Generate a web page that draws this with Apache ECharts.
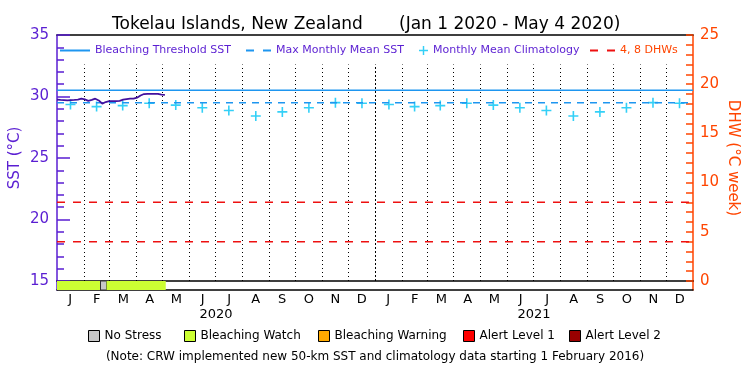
<!DOCTYPE html>
<html><head><meta charset="utf-8">
<script src="https://cdn.jsdelivr.net/npm/echarts@6/dist/echarts.min.js"></script>
<style>html,body{margin:0;padding:0;background:#fff}#c{width:750px;height:375px}</style>
</head><body><div id="c"></div>
<script>
// ---- data ----
const monthLabels = ['J','F','M','A','M','J','J','A','S','O','N','D','J','F','M','A','M','J','J','A','S','O','N','D'];
const yearLabels = ['2020','2021'];
const monthLengths = [31,29,31,30,31,30,31,31,30,31,30,31, 31,28,31,30,31,30,31,31,30,31,30,31];
// daily SST (day index from 1 Jan 2020)
const sstDays =   [0,4,8,12,16,20,24,28,32,36,40,44,48,52,56,60,64,68,72,76,80,84,88,92,96,100,104,108,112,116,120,124];
const sstValues = [29.75,29.72,29.70,29.68,29.70,29.72,29.75,29.82,29.76,29.65,29.72,29.82,29.68,29.42,29.55,29.62,29.62,29.62,29.65,29.74,29.78,29.82,29.83,29.90,30.08,30.20,30.22,30.22,30.22,30.22,30.16,30.14];
// monthly mean climatology (Jan..Dec)
const climValues = [29.35,29.18,29.26,29.45,29.30,29.08,28.86,28.42,28.75,29.08,29.50,29.45];
const thresholdSST = 30.5;
const mmmSST = 29.5;
const dhwLevels = [4, 8];
// heat stress bar segments
const stressStart = [0, 50, 57];
const stressEnd   = [50, 57, 125];
const stressLevel = [1, 0, 1];
const stressNames = ['No Stress','Bleaching Watch','Bleaching Warning','Alert Level 1','Alert Level 2'];
const stressColors = ['#c8c8c8','#ccff33','#ffaa00','#ff0000','#990000'];
const titlePlace = 'Tokelau Islands, New Zealand';
const titleDates = '(Jan 1 2020 - May 4 2020)';

// ---- derived ----
const monthStarts = [0];
monthLengths.forEach((l,i)=>monthStarts.push(monthStarts[i]+l));
const totalDays = monthStarts[monthStarts.length-1];
const climPoints = [];
for (let i=0;i<24;i++) climPoints.push([(monthStarts[i]+monthStarts[i+1])/2, climValues[i%12]]);
const sstData = sstDays.map((d,i)=>[d, sstValues[i]]);
const stressData = stressStart.map((s,i)=>[s, stressEnd[i], stressLevel[i]]);
const dotTop = 32.6;
const dividerLines = monthStarts.slice(1,-1).map(d=>[
  {coord:[d,15], lineStyle:{type: d===366 ? [2,2] : [1,3]}},
  {coord:[d,dotTop]}
]);

const FONT = 'DejaVu Sans';
const PURPLE = '#5a1ed2';
const ORANGE = '#ff4500';
const BLUE = '#1e96f0';
const CYAN = '#00c4f5';
const RED = '#ee1010';
const plusPath = 'path://M0,4.2h10v1.6h-10z M4.2,0h1.6v10h-1.6z';
const solidIcon = 'path://M0,0h30v2h-30z';
const dashIcon = 'path://M0,0h8v2h-8z M17,0h8v2h-8z';

const chart = echarts.init(document.getElementById('c'), null, {renderer:'canvas'});
const topLegend = (name, left, icon, w, h, color, top) => ({
  data:[{name, icon, textStyle:{color}}], left, top, padding: 0, itemWidth: w, itemHeight: h,
  textStyle:{fontFamily:FONT, fontSize:11}, selectedMode:false
});
const botLegend = (name, left) => ({
  data:[{name, icon:'rect', itemStyle:{borderColor:'#000', borderWidth:1}}], left, top: 330, padding:0,
  itemWidth: 11, itemHeight: 11, textStyle:{fontFamily:FONT, fontSize:12, color:'#000'}, selectedMode:false
});

chart.setOption({
  animation:false,
  backgroundColor:'#fff',
  textStyle:{fontFamily:FONT},
  title:[
    {text:titlePlace, left:107, top:11, textStyle:{fontFamily:FONT, fontSize:17, fontWeight:'normal', color:'#000'}},
    {text:titleDates, left:394, top:11, textStyle:{fontFamily:FONT, fontSize:17, fontWeight:'normal', color:'#000'}},
    {text:'(Note: CRW implemented new 50-km SST and climatology data starting 1 February 2016)', left:'center', top:346,
     textStyle:{fontFamily:FONT, fontSize:12, fontWeight:'normal', color:'#000'}}
  ],
  legend:[
    topLegend('Bleaching Threshold SST', 60, solidIcon, 30, 2, PURPLE, 45),
    topLegend('Max Monthly Mean SST', 246, dashIcon, 25, 2, PURPLE, 45),
    topLegend('Monthly Mean Climatology', 419, plusPath, 9, 9, PURPLE, 45),
    topLegend('4, 8 DHWs', 590, dashIcon, 25, 2, ORANGE, 45),
    botLegend(stressNames[0], 88),
    botLegend(stressNames[1], 184),
    botLegend(stressNames[2], 318),
    botLegend(stressNames[3], 463),
    botLegend(stressNames[4], 569)
  ],
  grid:[
    {left:57, right:57, top:35, height:246, containLabel:false, outerBoundsMode:'none'},
    {left:57, right:57, top:281, height:9, containLabel:false, outerBoundsMode:'none'}
  ],
  xAxis:[
    {type:'value', gridIndex:0, min:0, max:totalDays, position:'bottom',
     axisLine:{show:true, onZero:false, lineStyle:{color:'#000', width:1.5}}, axisTick:{show:false}, axisLabel:{show:false}, splitLine:{show:false}},
    {type:'value', gridIndex:0, min:0, max:totalDays, position:'top',
     axisLine:{show:true, onZero:false, lineStyle:{color:'#000', width:1.5}}, axisTick:{show:false}, axisLabel:{show:false}, splitLine:{show:false}},
    {type:'value', gridIndex:1, min:0, max:totalDays, position:'bottom',
     axisLine:{show:true, onZero:false, lineStyle:{color:'#000', width:1.5}}, axisTick:{show:false}, axisLabel:{show:false}, splitLine:{show:false}},
    {type:'category', gridIndex:1, data:monthLabels, position:'bottom', boundaryGap:true,
     axisLine:{show:false, onZero:false}, axisTick:{show:false}, splitLine:{show:false},
     axisLabel:{interval:0, margin:3, fontFamily:FONT, fontSize:13, color:'#000'}},
    {type:'category', gridIndex:1, data:yearLabels, position:'bottom', boundaryGap:true,
     axisLine:{show:false, onZero:false}, axisTick:{show:false}, splitLine:{show:false},
     axisLabel:{interval:0, margin:18, fontFamily:FONT, fontSize:13, color:'#000'}}
  ],
  yAxis:[
    {type:'value', gridIndex:0, min:15, max:35, interval:5, position:'left',
     name:'SST (°C)', nameLocation:'middle', nameGap:34, nameMoveOverlap:false,
     nameTextStyle:{color:PURPLE, fontFamily:FONT, fontSize:15},
     axisLine:{show:true, onZero:false, lineStyle:{color:PURPLE, width:1.5}},
     axisTick:{show:true, inside:true, length:13, lineStyle:{color:PURPLE, width:1.5}},
     minorTick:{show:true, splitNumber:5, length:7, lineStyle:{color:PURPLE, width:1.5}},
     axisLabel:{color:PURPLE, fontFamily:FONT, fontSize:15, margin:8},
     splitLine:{show:false}},
    {type:'value', gridIndex:0, min:0, max:25, interval:5, position:'right',
     name:'DHW (°C week)', nameLocation:'middle', nameGap:32, nameRotate:-90, nameMoveOverlap:false,
     nameTextStyle:{color:ORANGE, fontFamily:FONT, fontSize:15},
     axisLine:{show:true, onZero:false, lineStyle:{color:ORANGE, width:1.5}},
     axisTick:{show:true, inside:true, length:7, lineStyle:{color:ORANGE, width:1.5}},
     minorTick:{show:true, splitNumber:5, length:7, lineStyle:{color:ORANGE, width:1.5}},
     axisLabel:{color:ORANGE, fontFamily:FONT, fontSize:15, margin:7},
     splitLine:{show:false}},
    {type:'value', gridIndex:1, min:0, max:1, position:'left',
     axisLine:{show:true, onZero:false, lineStyle:{color:PURPLE, width:1.5}}, axisTick:{show:false}, axisLabel:{show:false}, splitLine:{show:false}},
    {type:'value', gridIndex:1, min:0, max:1, position:'right',
     axisLine:{show:true, onZero:false, lineStyle:{color:ORANGE, width:1.5}}, axisTick:{show:false}, axisLabel:{show:false}, splitLine:{show:false}}
  ],
  series:[
    {name:'Bleaching Threshold SST', type:'line', xAxisIndex:0, yAxisIndex:0, symbol:'none',
     data:[[0,thresholdSST],[totalDays,thresholdSST]], lineStyle:{color:BLUE, width:1.5}, itemStyle:{color:BLUE},
     markLine:{silent:true, symbol:['none','none'], label:{show:false}, animation:false,
       lineStyle:{color:'#000', width:1, type:[1,3]}, data:dividerLines}},
    {name:'Max Monthly Mean SST', type:'line', xAxisIndex:0, yAxisIndex:0, symbol:'none',
     data:[[0,mmmSST],[totalDays,mmmSST]], lineStyle:{color:BLUE, width:1.5, type:[7,6]}, itemStyle:{color:BLUE}},
    {name:'Monthly Mean Climatology', type:'scatter', xAxisIndex:0, yAxisIndex:0,
     symbol:plusPath, symbolSize:10, data:climPoints, itemStyle:{color:CYAN}},
    {name:'4, 8 DHWs', type:'line', xAxisIndex:0, yAxisIndex:1, symbol:'none',
     data:[[0,dhwLevels[0]],[totalDays,dhwLevels[0]]], lineStyle:{color:RED, width:1.5, type:[8,8]}, itemStyle:{color:RED}},
    {name:'4, 8 DHWs', type:'line', xAxisIndex:0, yAxisIndex:1, symbol:'none',
     data:[[0,dhwLevels[1]],[totalDays,dhwLevels[1]]], lineStyle:{color:RED, width:1.5, type:[8,8]}, itemStyle:{color:RED}},
    {name:'SST', type:'line', xAxisIndex:0, yAxisIndex:0, symbol:'none', z:5,
     data:sstData, lineStyle:{color:'#42109e', width:1.8}, itemStyle:{color:'#42109e'}},
    {name:'stress', type:'custom', xAxisIndex:2, yAxisIndex:2, data:stressData,
     renderItem:function(params, api){
       const a = api.coord([api.value(0), 0]);
       const b = api.coord([api.value(1), 1]);
       const lvl = api.value(2);
       return {type:'rect', shape:{x:a[0], y:b[1], width:b[0]-a[0], height:a[1]-b[1]},
         style:{fill:stressColors[lvl], stroke: lvl===0 ? '#333' : null, lineWidth:1}};
     }},
    ...stressNames.map((n,i)=>({name:n, type:'bar', xAxisIndex:2, yAxisIndex:2, data:[], itemStyle:{color:stressColors[i]}}))
  ]
});
</script></body></html>
